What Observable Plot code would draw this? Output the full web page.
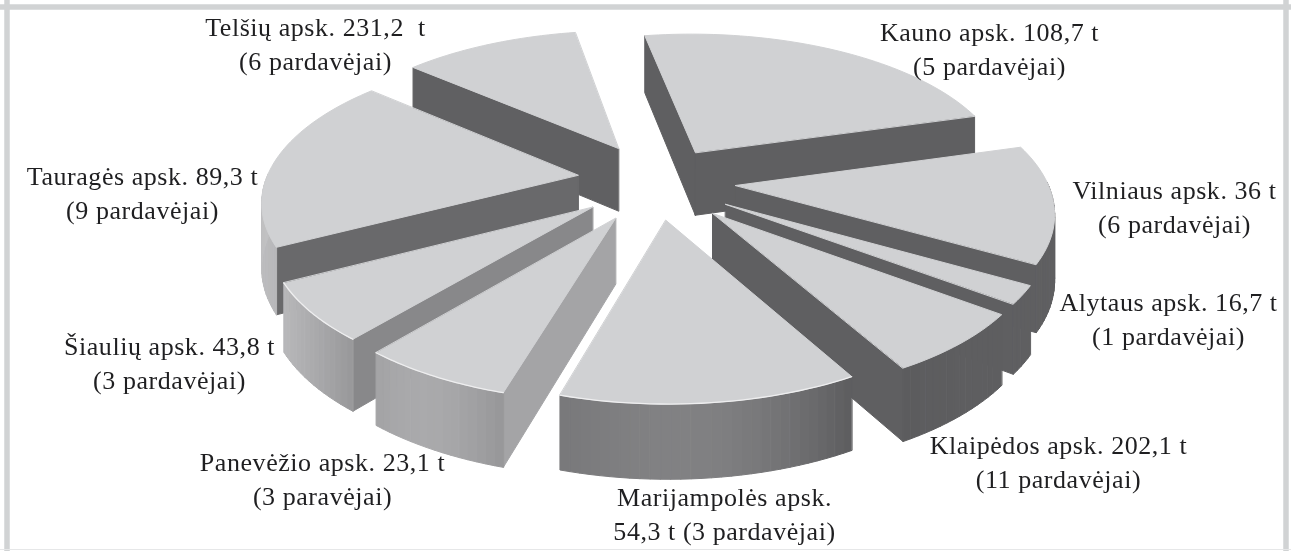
<!DOCTYPE html>
<html lang="lt">
<head>
<meta charset="utf-8">
<script src="https://cdn.jsdelivr.net/npm/d3@7"></script>
<script src="https://cdn.jsdelivr.net/npm/@observablehq/plot@0.6"></script>
<style>
  html, body { margin: 0; padding: 0; background: #fff; }
  svg { display: block; }
</style>
</head>
<body>
<div id="chart"></div>
<script>
// ---- data, clockwise from the Telšiai slice ----
const counties = ["Telšių", "Kauno", "Vilniaus", "Alytaus", "Klaipėdos", "Marijampolės", "Panevėžio", "Šiaulių", "Tauragės"];
const sliceDegrees = [38.9, 84.2, 45.9, 7, 23.8, 45.7, 23.5, 22.4, 68.6];
const labels = [
  "Telšių apsk. 231,2\u00a0 t\n(6 pardavėjai)",
  "Kauno apsk. 108,7 t\n(5 pardavėjai)",
  "Vilniaus apsk. 36 t\n(6 pardavėjai)",
  "Alytaus apsk. 16,7 t\n(1 pardavėjai)",
  "Klaipėdos apsk. 202,1 t\n(11 pardavėjai)",
  "Marijampolės apsk.\n54,3 t (3 pardavėjai)",
  "Panevėžio apsk. 23,1 t\n(3 paravėjai)",
  "Šiaulių apsk. 43,8 t\n(3 pardavėjai)",
  "Tauragės apsk. 89,3 t\n(9 pardavėjai)"
];

// ---- layout: where each exploded slice sits on the tilted pie plane ----
const startAngle = 220.9;
const explodeX = [-33, 46, 85, 74, 61, 15, -34, -57, -73];
const explodeY = [-82, -73, 0, 40, 59, 73, 69, 46, -22];
const labelX = [315, 989, 1174, 1168, 1058, 724, 322, 169, 142];
const labelY = [42, 47, 205, 317, 460, 512, 477, 361, 191];
const paintOrder = [0, 1, 8, 2, 7, 3, 4, 6, 5];
const edgeGlint = [5, 6, 7];

// ---- styles ----
const topShade = "#d0d1d3";
const frameShade = "#d1d3d4";
const sideShade = ["#606062", "#5f5f61", "#5f5f61", "#5f5f61", "#5f5f61", "#606062", "#a4a4a6", "#88888a", "#69696b"];
const rimShades = [
  ["#606062", "#606062", "#606062"], ["#5f5f61", "#5f5f61", "#5f5f61"],
  ["#5f5f61", "#5f5f61", "#5f5f61"], ["#5f5f61", "#5f5f61", "#5f5f61"],
  ["#5e5e60", "#5e5e60", "#5c5c5e"], ["#5c5c5e", "#8a8a8c", "#78787a"],
  ["#979799", "#afafb1", "#a3a3a5"], ["#98989a", "#adadaf", "#b8b8ba"],
  ["#b8b8ba", "#c4c4c6", "#ccccce"]
];

// ---- perspective of the tilted plane ----
const centreX = 650, horizon = -1115, eyeHeight = 1300, eyeDistance = 2800, thickness = 64.4;
const rad = d => d * Math.PI / 180;
const radius = t => 313 + 17 * Math.sin(rad(t));
function project(X, Y) {
  const s = eyeDistance / (eyeDistance - Y);
  return { x: centreX + X * s, y: horizon + eyeHeight * s, drop: thickness * s };
}
function rimPoint(i, t) {
  const r = radius(t);
  return project(explodeX[i] + r * Math.cos(rad(t)), explodeY[i] + r * Math.sin(rad(t)));
}

const bounds = d3.cumsum(sliceDegrees).map(v => v + startAngle);
const sliceStart = i => (i === 0 ? startAngle : bounds[i - 1]);
const faces = [];
let faceId = 0;
function addFace(points, fill) {
  const id = faceId++;
  for (const p of points) faces.push({ id, x: p.x, y: p.y, fill });
}
const below = p => ({ x: p.x, y: p.y + p.drop });

for (const i of paintOrder) {
  const a0 = sliceStart(i), a1 = bounds[i];
  const apex = project(explodeX[i], explodeY[i]);
  // radial walls that face the viewer
  if (Math.sin(rad(a0 - 90)) > 0) {
    const o = rimPoint(i, a0);
    addFace([apex, o, below(o), below(apex)], sideShade[i]);
  }
  if (Math.sin(rad(a1 + 90)) > 0) {
    const o = rimPoint(i, a1);
    addFace([apex, o, below(o), below(apex)], sideShade[i]);
  }
  // curved outer wall, in narrow strips for its shading
  const shade = d3.interpolateRgbBasis(rimShades[i]);
  const steps = Math.max(2, Math.round((a1 - a0) / 1.5));
  for (let k = 0; k < steps; k++) {
    const t0 = a0 + (a1 - a0) * k / steps, t1 = a0 + (a1 - a0) * (k + 1) / steps;
    if (Math.sin(rad((t0 + t1) / 2)) <= -0.02) continue;
    const p0 = rimPoint(i, t0), p1 = rimPoint(i, t1);
    addFace([p0, p1, below(p1), below(p0)], shade((k + 0.5) / steps));
  }
  // top face
  const arc = d3.range(0, steps + 1).map(k => rimPoint(i, a0 + (a1 - a0) * k / steps));
  addFace([apex, ...arc], topShade);
}

const glint = edgeGlint.flatMap(i => {
  const a0 = sliceStart(i), a1 = bounds[i];
  return d3.range(0, 31).map(k => ({ i, ...rimPoint(i, a0 + (a1 - a0) * k / 30) }));
});

const labelRows = labels.map((text, i) => ({ text, county: counties[i], x: labelX[i], y: labelY[i] }));

const chart = Plot.plot({
  width: 1291,
  height: 551,
  margin: 0,
  x: { axis: null, domain: [0, 1291], range: [0, 1291] },
  y: { axis: null, domain: [0, 551], range: [0, 551] },
  color: { type: "identity" },
  style: { background: "#fff", letterSpacing: "0.55px", filter: "blur(0.7px)" },
  marks: [
    Plot.ruleY([6.5], { stroke: frameShade, strokeWidth: 5.5 }),
    Plot.ruleX([6.5], { stroke: frameShade, strokeWidth: 5.5 }),
    Plot.ruleX([1285.5], { stroke: frameShade, strokeWidth: 5.5 }),
    Plot.ruleY([549], { stroke: "#e6e7e8", strokeWidth: 1 }),
    Plot.line(faces, { x: "x", y: "y", z: "id", fill: "fill", stroke: "fill", strokeWidth: 1, curve: "linear-closed" }),
    Plot.line(glint, { x: "x", y: "y", z: "i", stroke: "#eeeeef", strokeWidth: 1.3 }),
    Plot.text(labelRows, {
      x: "x", y: "y", text: "text",
      fontFamily: "Liberation Serif", fontSize: 26, fill: "#1f1f21",
      lineHeight: 1.31, textAnchor: "middle"
    })
  ]
});
document.getElementById("chart").append(chart);
</script>
</body>
</html>
